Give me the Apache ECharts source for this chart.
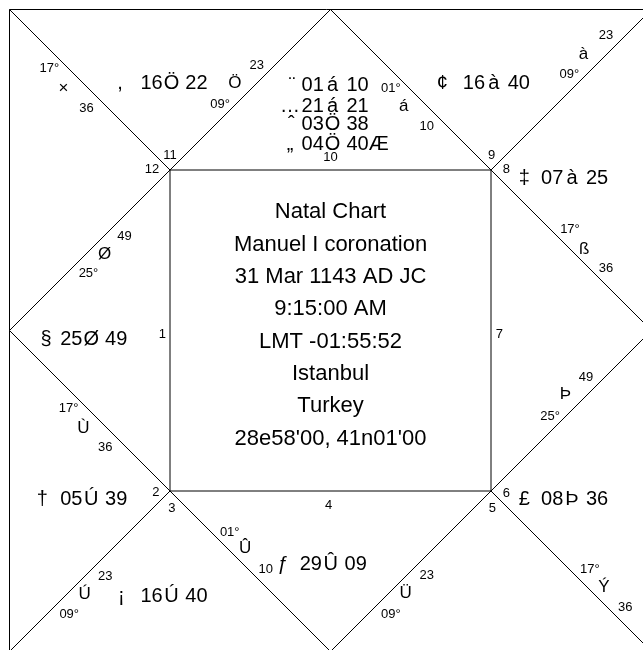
<!DOCTYPE html>
<html>
<head>
<meta charset="utf-8">
<title>Natal Chart</title>
<script src="https://cdn.jsdelivr.net/npm/echarts@6.0.0/dist/echarts.min.js"></script>
<style>
  body { margin: 0; background: #fff; }
  #chart { width: 643px; height: 650px; }
</style>
</head>
<body>
<div id="chart"></div>
<script>
// chart header (centre square)
var centerLines = ['Natal Chart', 'Manuel I coronation', '31 Mar 1143 AD JC', '9:15:00 AM',
  'LMT -01:55:52', 'Istanbul', 'Turkey', "28e58'00, 41n01'00"]

// house numbers 1..12
var houseNumbers = ['1', '2', '3', '4', '5', '6', '7', '8', '9', '10', '11', '12']

// cusp labels on the dividing lines (degree, sign glyph, minutes)
var cuspDeg = ['17°', '09°', '01°', '09°', '17°', '25°', '17°', '09°', '01°', '09°', '17°', '25°']
var cuspSign = ['×', 'Ö', 'á', 'à', 'ß', 'Þ', 'Ý', 'Ü', 'Û', 'Ú', 'Ù', 'Ø']
var cuspMin = ['36', '23', '10', '23', '36', '49', '36', '23', '10', '23', '36', '49']

// planets (glyph, degree, sign glyph, minutes)
var planetGlyph = [',', '¨', '…', 'ˆ', '„', '¢', '‡', '§', '†', '¡', 'ƒ', '£']
var planetDeg = ['16', '01', '21', '03', '04', '16', '07', '25', '05', '16', '29', '08']
var planetSign = ['Ö', 'á', 'á', 'Ö', 'Ö', 'à', 'à', 'Ø', 'Ú', 'Ú', 'Û', 'Þ']
var planetMin = ['22', '10', '21', '38', '40Æ', '40', '25', '49', '39', '40', '09', '36']

// ---- layout (chart units, square is 0..100) ----
var housePos = [[23.8, 50.3], [22.8, 74.9], [25.3, 77.4], [49.7, 76.9], [75.2, 77.4], [77.4, 75.1],
  [76.3, 50.3], [77.4, 24.7], [75.1, 22.4], [50.0, 22.8], [25.0, 22.4], [22.2, 24.7]]
// [deg, sign, min] positions for every cusp
var cuspPos = [
  [[6.2, 8.9], [8.4, 12.0], [12.0, 15.1]],
  [[32.8, 14.5], [35.1, 11.2], [38.5, 8.4]],
  [[59.4, 12.0], [61.4, 14.8], [65.0, 17.9]],
  [[87.2, 9.9], [89.4, 6.7], [92.9, 3.7]],
  [[87.3, 34.0], [89.5, 37.0], [92.9, 40.1]],
  [[84.2, 63.1], [86.6, 59.7], [89.8, 57.0]],
  [[90.4, 86.9], [92.6, 89.7], [95.9, 92.9]],
  [[59.4, 93.9], [61.7, 90.6], [65.0, 87.8]],
  [[34.3, 81.1], [36.7, 83.6], [39.9, 86.9]],
  [[9.3, 93.9], [11.7, 90.8], [14.9, 88.0]],
  [[9.2, 61.8], [11.5, 65.0], [14.9, 67.9]],
  [[12.3, 40.9], [14.8, 37.8], [17.9, 35.0]]
]
// [glyph x, degree start x, row y]
var planetPos = [[17.2, 20.4, 11.3], [44.0, 45.5, 11.5], [43.7, 45.5, 14.8], [43.9, 45.5, 17.7],
  [43.7, 45.5, 20.7], [67.4, 70.6, 11.2], [80.2, 82.8, 26.1], [5.7, 7.9, 51.1], [5.1, 7.9, 76.0],
  [17.4, 20.4, 91.2], [42.6, 45.2, 86.1], [80.2, 82.8, 76.1]]
var SIGN_DX = 4.82
var MIN_DX = 6.99
var NUDGE = 0.28 // text middle sits a bit high in canvas, push it down

var FONT = "'Liberation Sans', Arial, sans-serif"
var texts = []
function addText(text, x, y, size, align) {
  texts.push({ text: text, x: x, y: y + NUDGE, size: size, align: align || 'center' })
}

centerLines.forEach(function (line, i) {
  addText(line, 50, 31.3 + 5.04 * i, 22)
})
houseNumbers.forEach(function (n, i) {
  addText(n, housePos[i][0], housePos[i][1], 13)
})
cuspDeg.forEach(function (d, i) {
  var p = cuspPos[i]
  addText(d, p[0][0], p[0][1], 13)
  addText(cuspSign[i], p[1][0], p[1][1], 17)
  addText(cuspMin[i], p[2][0], p[2][1], 13)
})
planetGlyph.forEach(function (g, i) {
  var p = planetPos[i]
  addText(g, p[0], p[2], 20)
  addText(planetDeg[i], p[1], p[2], 20, 'left')
  addText(planetSign[i], p[1] + SIGN_DX, p[2], 20)
  addText(planetMin[i], p[1] + MIN_DX, p[2], 20, 'left')
})

// frame lines
var frame = [
  [[0, 0], [100, 0], [100, 100], [0, 100], [0, 0]],
  [[25, 25], [75, 25], [75, 75], [25, 75], [25, 25]],
  [[0, 0], [25, 25]],
  [[100, 0], [75, 25]],
  [[0, 100], [25, 75]],
  [[100, 100], [75, 75]],
  [[50, 0], [0, 50], [50, 100], [100, 50], [50, 0]]
]

var chart = echarts.init(document.getElementById('chart'))
chart.setOption({
  animation: false,
  backgroundColor: '#fff',
  grid: { left: 9.5, top: 9.5, width: 642, height: 642, outerBoundsMode: 'none' },
  xAxis: { type: 'value', min: 0, max: 100, show: false },
  yAxis: { type: 'value', min: 0, max: 100, inverse: true, show: false },
  series: [
    {
      type: 'lines',
      coordinateSystem: 'cartesian2d',
      polyline: true,
      silent: true,
      lineStyle: { color: '#000', width: 1, opacity: 1 },
      data: frame.map(function (c) { return { coords: c } })
    },
    {
      type: 'custom',
      silent: true,
      clip: false,
      data: texts.map(function (t) { return [t.x, t.y] }),
      renderItem: function (params, api) {
        var t = texts[params.dataIndex]
        var p = api.coord([api.value(0), api.value(1)])
        return {
          type: 'text',
          x: p[0],
          y: p[1],
          style: {
            text: t.text,
            fontSize: t.size,
            fontFamily: FONT,
            fill: '#000',
            align: t.align,
            verticalAlign: 'middle'
          }
        }
      }
    }
  ]
})
</script>
</body>
</html>
